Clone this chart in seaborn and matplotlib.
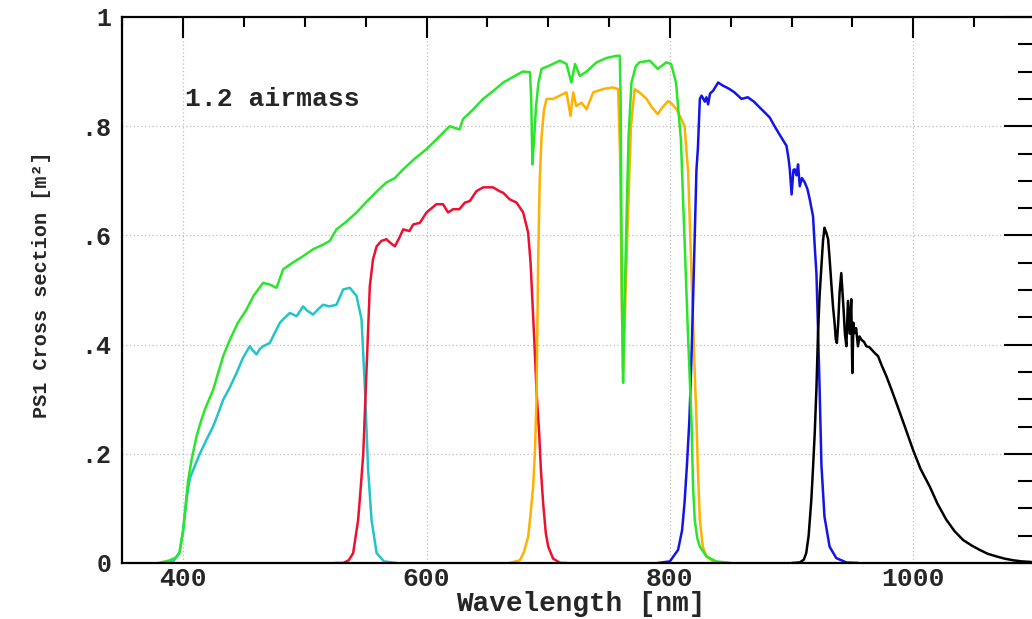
import numpy as np
import pandas as pd
import matplotlib
matplotlib.use("Agg")
import matplotlib.pyplot as plt
import seaborn as sns

# ---------------- data ----------------
g_nm = [385, 392, 397, 400, 403, 405.5, 410, 413.7, 419, 424.6, 429, 432.9, 438, 443.9, 449,
        454.8, 457, 460.3, 463, 465.7, 471.2, 475, 479.5, 483, 487.7, 493.2, 498.6, 502, 506.8,
        511, 515, 520, 526, 531.5, 537, 542.5, 546.6, 549.3, 552, 554.8, 559, 565, 575]
g_val = [0, 0.003, 0.02, 0.06, 0.12, 0.155, 0.18, 0.2, 0.225, 0.25, 0.275, 0.299, 0.32, 0.348, 0.375,
         0.397, 0.39, 0.382, 0.392, 0.397, 0.403, 0.42, 0.44, 0.448, 0.458, 0.452, 0.47, 0.462, 0.455,
         0.465, 0.473, 0.47, 0.473, 0.501, 0.504, 0.489, 0.446, 0.323, 0.171, 0.079, 0.018, 0.003, 0]

r_nm = [525, 531.5, 536, 539.7, 543.8, 546, 548, 550.7, 553.4, 556, 559, 563, 567, 571, 574, 577.5,
        580.8, 586, 589, 594.5, 600, 608, 613.6, 617.7, 621.9, 627, 631.5, 635.6, 641, 646.5, 654.7,
        660, 663, 668.4, 674, 679.4, 683.5, 685.5, 687, 688.5, 690.5, 692.5, 694, 695.8, 698, 700,
        704, 710, 715]
r_val = [0, 0, 0.005, 0.018, 0.079, 0.14, 0.2, 0.354, 0.507, 0.556, 0.58, 0.59, 0.593, 0.585, 0.58, 0.595,
         0.611, 0.608, 0.62, 0.623, 0.642, 0.657, 0.657, 0.642, 0.648, 0.648, 0.66, 0.663, 0.681, 0.688, 0.688,
         0.681, 0.678, 0.666, 0.66, 0.642, 0.605, 0.55, 0.48, 0.41, 0.31, 0.24, 0.17, 0.11, 0.055, 0.03,
         0.008, 0.0, 0]

i_nm = [668, 676.7, 680, 683.5, 685.5, 687.6, 689, 690.4, 691.7, 693, 694.5, 696.5, 698.6, 704, 709.5,
        715, 718.3, 720.5, 723, 727.4, 731.5, 737, 745, 753, 757.4, 759, 760.5, 761.5, 763, 765, 768,
        771, 776, 780.8, 785, 790, 794, 798.5, 802, 805.4, 809, 812, 815, 817.7, 820.4, 821.8, 823,
        824.6, 827, 830, 836, 845]
i_val = [0, 0.005, 0.02, 0.048, 0.09, 0.14, 0.2, 0.3, 0.55, 0.7, 0.78, 0.83, 0.85, 0.85, 0.856,
         0.862, 0.819, 0.862, 0.837, 0.843, 0.831, 0.862, 0.868, 0.871, 0.868, 0.75, 0.47, 0.35, 0.45, 0.6, 0.8,
         0.868, 0.86, 0.85, 0.835, 0.822, 0.835, 0.846, 0.84, 0.831, 0.815, 0.8, 0.715, 0.531, 0.348, 0.262, 0.17,
         0.079, 0.03, 0.012, 0.002, 0]

z_nm = [790, 800, 806.7, 810, 812, 814, 816, 817.5, 819, 820.4, 821.8, 823, 824.6, 826, 828.7, 830,
        831.4, 833, 835.5, 839.6, 843, 846.5, 849, 853, 858.8, 864, 869, 873.9, 878, 882, 886, 890,
        895.8, 897.5, 898.5, 900, 901.5, 902.6, 904, 905.3, 906.7, 908.5, 910.8, 913, 914.9, 917.6,
        919, 920.4, 921.7, 923, 924.5, 927, 931.2, 936.7, 945, 955]
z_val = [0, 0.003, 0.024, 0.06, 0.11, 0.18, 0.262, 0.36, 0.48, 0.6, 0.72, 0.76, 0.85, 0.856, 0.845, 0.853,
         0.84, 0.86, 0.865, 0.88, 0.875, 0.871, 0.868, 0.862, 0.85, 0.853, 0.845, 0.834, 0.825, 0.816, 0.8, 0.785,
         0.764, 0.74, 0.721, 0.675, 0.72, 0.721, 0.71, 0.73, 0.69, 0.705, 0.697, 0.685, 0.666, 0.635,
         0.58, 0.53, 0.43, 0.32, 0.18, 0.085, 0.03, 0.009, 0.001, 0]

y_nm = [900, 906.7, 910, 912, 914, 916.2, 917.5, 919, 920.4, 921.7, 923, 924.5, 925.8, 927, 928.5, 930,
        931.3, 932.6, 934, 935.3, 936.3, 937.2, 938.3, 939.4, 940.8, 941.7, 942.7, 943.8, 945, 946.3,
        947.7, 949, 949.9, 950.8, 951.7, 953, 954.5, 955.8, 957.3, 959.5, 961.4, 964, 966.9, 969, 971,
        974, 977.9, 982, 986.1, 993, 999.8, 1006, 1013.5, 1020, 1027.2, 1034, 1041, 1048, 1054.6,
        1061, 1068.4, 1075, 1082, 1089, 1096, 1100]
y_val = [0, 0.001, 0.006, 0.018, 0.05, 0.116, 0.17, 0.238, 0.32, 0.421, 0.49, 0.544, 0.59, 0.614, 0.605, 0.593,
         0.555, 0.513, 0.47, 0.44, 0.41, 0.403, 0.44, 0.495, 0.531, 0.5, 0.464, 0.42, 0.397, 0.48,
         0.42, 0.483, 0.348, 0.44, 0.421, 0.43, 0.397, 0.415, 0.409, 0.405, 0.397, 0.395, 0.388, 0.383, 0.379,
         0.362, 0.342, 0.318, 0.293, 0.25, 0.207, 0.172, 0.14, 0.108, 0.079, 0.058, 0.042, 0.032, 0.024,
         0.017, 0.012, 0.008, 0.005, 0.003, 0.002, 0.001]

w_nm = [380, 389, 394, 397, 400, 404, 407, 411, 414, 417.8, 424.6, 432.9, 438.4, 445, 452, 458, 465.7,
        471.2, 476.7, 482.2, 490, 498.6, 507, 515, 520.5, 526, 534, 542.5, 550, 558, 567, 574, 580.8,
        590, 600, 610, 619, 627, 630, 638, 646.5, 655, 663, 671, 679, 685, 686, 687, 688.5, 690, 692,
        694.5, 701, 709.5, 715, 719, 722, 726, 731.5, 739.7, 748, 756, 758.8, 759.5, 760.5, 761.5,
        762.5, 764, 766, 768.4, 772, 775, 783.5, 790, 797, 801, 805, 809, 812, 815, 817.7, 819, 820.4,
        822.5, 824.6, 830, 838, 850]
w_val = [0, 0.005, 0.01, 0.018, 0.06, 0.15, 0.19, 0.232, 0.255, 0.281, 0.317, 0.379, 0.409, 0.44, 0.464, 0.49, 0.513,
         0.51, 0.504, 0.538, 0.55, 0.562, 0.575, 0.583, 0.59, 0.611, 0.625, 0.642, 0.66, 0.678, 0.697, 0.705, 0.721,
         0.74, 0.758, 0.78, 0.80, 0.794, 0.813, 0.83, 0.85, 0.865, 0.88, 0.89, 0.90, 0.899, 0.85, 0.73, 0.78, 0.837, 0.88,
         0.905, 0.911, 0.92, 0.914, 0.88, 0.914, 0.892, 0.90, 0.917, 0.925, 0.929, 0.929, 0.85, 0.5, 0.33,
         0.45, 0.6, 0.78, 0.88, 0.91, 0.917, 0.92, 0.905, 0.917, 0.914, 0.88, 0.776, 0.593, 0.409, 0.26, 0.14, 0.079,
         0.045, 0.03, 0.012, 0.003, 0]

x_major = [400, 600, 800, 1000]
x_labels = ["400", "600", "800", "1000"]
y_major = [0, 0.2, 0.4, 0.6, 0.8, 1.0]
y_labels = ["0", ".2", ".4", ".6", ".8", "1"]

filters = ["g", "r", "i", "z", "y", "w"]
colors = {"g": "#22c4c8", "r": "#ee1030", "i": "#ffb000", "z": "#1414e6", "y": "#000000", "w": "#2ae62a"}

frames = []
for name, nm, val in [("g", g_nm, g_val), ("r", r_nm, r_val), ("i", i_nm, i_val),
                      ("z", z_nm, z_val), ("y", y_nm, y_val), ("w", w_nm, w_val)]:
    frames.append(pd.DataFrame({"nm": nm, "val": val, "filter": name}))
df = pd.concat(frames, ignore_index=True)

# ---------------- style ----------------
sns.set_theme(style="white")
plt.rcParams["font.family"] = ["Liberation Mono", "DejaVu Sans"]
plt.rcParams["font.weight"] = "bold"

W, H = 1032, 619
fig = plt.figure(figsize=(W / 100, H / 100), dpi=100)
fig.patch.set_facecolor("white")
left_px, right_px, top_px, bot_px = 122.3, 1035.0, 17.0, 563.0
ax = fig.add_axes([left_px / W, (H - bot_px) / H, (right_px - left_px) / W, (bot_px - top_px) / H])

sns.lineplot(data=df, x="nm", y="val", hue="filter", hue_order=filters, palette=colors,
             estimator=None, sort=False, linewidth=1.8, legend=False, ax=ax)

ax.set_xlim(350, 1100)
ax.set_ylim(0, 1)

ax.set_xticks(x_major)
ax.set_xticklabels(x_labels, fontsize=19, fontweight="bold")
ax.set_xticks(np.arange(350, 1101, 50), minor=True)
ax.set_yticks(y_major)
ax.set_yticklabels(y_labels, fontsize=18, fontweight="bold")
ax.set_yticks(np.arange(0, 1.001, 0.05), minor=True)

ax.tick_params(which="both", direction="in", top=True, right=True, width=1.5, color="black")
ax.tick_params(axis="x", which="major", length=15, pad=3)
ax.tick_params(axis="x", which="minor", length=7.5)
ax.tick_params(axis="y", which="major", length=22, pad=8)
ax.tick_params(axis="y", which="minor", length=12)

for s in ax.spines.values():
    s.set_color("black")
    s.set_linewidth(1.6)

ax.grid(True, which="major", linestyle=(0, (1, 2)), color="#bdbdbd", linewidth=0.9)
ax.set_axisbelow(True)

ax.set_xlabel("Wavelength [nm]", fontsize=20, fontweight="bold")
ax.xaxis.set_label_coords((580.5 - left_px) / (right_px - left_px), -0.052)
ax.set_ylabel("PS1 Cross section [m²]", fontsize=14.5, fontweight="bold")
ax.yaxis.set_label_coords(-0.078, 0.51)

ax.text(401.5, 0.85, "1.2 airmass", fontsize=19, fontweight="bold", ha="left", va="center")

fig.savefig("out.png", dpi=100)
